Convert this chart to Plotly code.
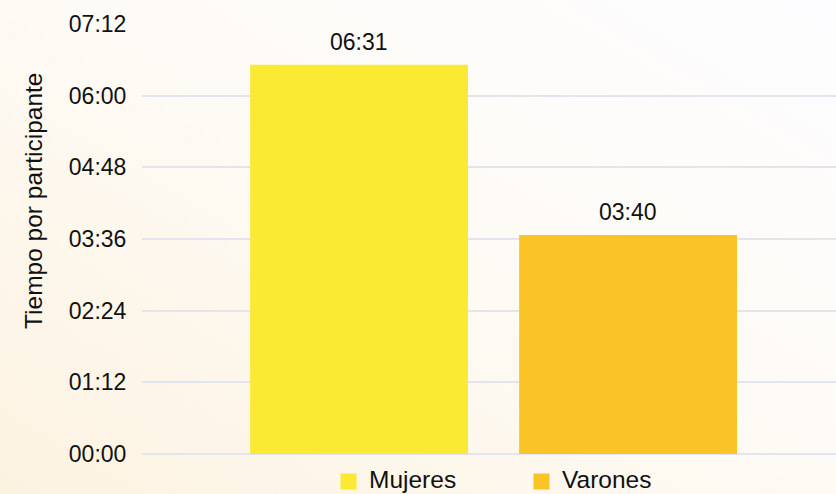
import base64
import plotly.graph_objects as go

# data (minutes per participant)
categories = ["Mujeres", "Varones"]
minutes = [391, 220]
colors = ["#FBEA33", "#FBC426"]
tick_vals = [0, 72, 144, 216, 288, 360, 432]
tick_text = ["00:00", "01:12", "02:24", "03:36", "04:48", "06:00", "07:12"]


def hhmm(m):
    return f"{m // 60:02d}:{m % 60:02d}"


W, H = 836, 494
L, R, T, B = 142, 0, 23, 39
pw, ph = W - L - R, H - T - B


def px(X):
    # page pixel -> paper x
    return (X - L) / pw


def py(Y):
    # page pixel -> paper y
    return (H - B - Y) / ph


svg = (
    f"<svg xmlns='http://www.w3.org/2000/svg' width='{W}' height='{H}'>"
    "<defs><linearGradient id='g' x1='0' y1='1' x2='1' y2='0'>"
    "<stop offset='0' stop-color='#FCF2E0'/>"
    "<stop offset='0.55' stop-color='#FEFBF6'/>"
    "<stop offset='1' stop-color='#FDFDFF'/>"
    "</linearGradient></defs>"
    f"<rect width='{W}' height='{H}' fill='url(#g)'/></svg>"
)
bg_src = "data:image/svg+xml;base64," + base64.b64encode(svg.encode()).decode()

font = "Liberation Sans, Arial, Helvetica, sans-serif"

fig = go.Figure()
for i, (cat, val, col) in enumerate(zip(categories, minutes, colors)):
    fig.add_trace(go.Bar(
        x=[cat], y=[val], name=cat, showlegend=False,
        marker_color=col, marker_line_width=0,
        width=0.81,
        hovertemplate=f"{cat}: {hhmm(val)}<extra></extra>",
    ))
    fig.add_annotation(
        x=cat, y=val, text=hhmm(val), showarrow=False,
        yanchor="bottom", yshift=8,
        font=dict(size=23, color="#111111", family=font),
    )
    # legend row at the bottom edge (cut off like the original)
    fig.add_annotation(
        text=" ", showarrow=False, xref="paper", yref="paper",
        x=px(340 + i * 193), y=py(490), xanchor="left", yanchor="bottom",
        width=15, height=15, bgcolor=col, borderpad=0,
    )
    fig.add_annotation(
        text=cat, showarrow=False, xref="paper", yref="paper",
        x=px(368 + i * 193), y=py(H), xanchor="left", yanchor="bottom",
        borderpad=0, font=dict(size=24.5, color="#111111", family=font),
    )

# y-axis title sits a bit above the middle of the axis
fig.add_annotation(
    text="Tiempo por participante", textangle=-90, showarrow=False,
    xref="paper", yref="paper", x=px(33), y=py(201),
    xanchor="center", yanchor="middle",
    font=dict(size=24.5, color="#111111", family=font),
)

fig.update_layout(
    width=W, height=H,
    margin=dict(l=L, r=R, t=T, b=B),
    barmode="overlay",
    paper_bgcolor="rgba(0,0,0,0)",
    plot_bgcolor="rgba(0,0,0,0)",
    font=dict(family=font, size=23, color="#111111"),
    showlegend=False,
    images=[dict(
        source=bg_src, xref="paper", yref="paper",
        x=-L / pw, y=1 + T / ph, sizex=W / pw, sizey=H / ph,
        xanchor="left", yanchor="top", sizing="stretch", layer="below",
    )],
    xaxis=dict(
        range=[-0.807, 1.773], showticklabels=False, showgrid=False,
        zeroline=False, showline=False, fixedrange=True,
    ),
    yaxis=dict(
        range=[-1, 433], tickvals=tick_vals, ticktext=tick_text,
        gridcolor="#E2E5EE", gridwidth=2,
        zeroline=True, zerolinecolor="#E2E5EE", zerolinewidth=2,
        showline=False,
        ticks="outside", ticklen=10, tickcolor="rgba(0,0,0,0)",
        automargin=False,
    ),
)

fig.write_html(
    "out.html",
    config={"displayModeBar": False},
    post_script="document.body.style.margin='0';",
)
